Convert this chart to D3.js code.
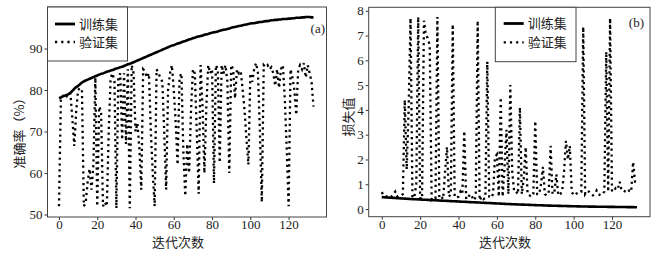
<!DOCTYPE html>
<html><head><meta charset="utf-8">
<script src="https://cdn.jsdelivr.net/npm/d3@7"></script>
<style>
html,body{margin:0;padding:0;background:#fff;}
svg{display:block;}
text{font-family:"Liberation Serif","Noto Sans CJK SC",serif;fill:#222;}
.cjk{font-family:"Noto Sans CJK SC","Liberation Serif",sans-serif;}
</style></head>
<body>
<svg id="c" width="662" height="253"></svg>
<script>
const trainAcc = [
78.0,78.2,78.5,78.6,78.8,79.0,79.3,79.8,80.3,80.7,
81.0,81.4,81.8,82.1,82.3,82.5,82.7,82.9,83.1,83.3,
83.5,83.7,83.9,84.0,84.2,84.4,84.5,84.7,84.8,85.0,
85.2,85.3,85.5,85.6,85.8,86.0,86.2,86.3,86.5,86.7,
86.9,87.1,87.3,87.5,87.7,87.9,88.1,88.3,88.5,88.7,
88.9,89.1,89.3,89.5,89.7,89.9,90.1,90.3,90.5,90.7,
90.8,91.0,91.2,91.3,91.5,91.7,91.8,92.0,92.2,92.3,
92.5,92.6,92.8,92.9,93.0,93.1,93.3,93.4,93.5,93.7,
93.8,93.9,94.0,94.1,94.3,94.4,94.5,94.6,94.7,94.8,
95.0,95.1,95.2,95.3,95.4,95.5,95.6,95.7,95.8,95.9,
96.0,96.1,96.1,96.2,96.3,96.4,96.4,96.5,96.6,96.6,
96.7,96.8,96.8,96.9,96.9,97.0,97.0,97.1,97.1,97.1,
97.2,97.2,97.3,97.3,97.4,97.4,97.4,97.5,97.5,97.6,
97.6,97.6,97.5,97.5];
const valAcc = [
52,78,78.5,79,78.5,79.5,79,73,66.5,75,
80,80.5,80,52,53,58,61,56,62,83,
52,76,75,52,53,52,70,83,84,82,
51.5,83,84,68,84,67,85,51.5,86,84,
70,72,66,56,85,84.5,83,84,70,60,
52,85,84,83,82,70,56,80,84,86,
80,72,62,83,84,65,54.5,67,60,75,
85,84,70,55,86,76,60,76,86,84,
85,57.5,86,85,62.5,86,84,86,82,60,
86,85,78,85,84,84.5,80,75,68,62,
84,82,85,86.5,84,70,53,86,85.5,86,
85,85.5,84,81,85,80.5,85,86,78,66,
52,85,83,80,74,85,86,85,86.5,83,
86,84,82,76];
const trainLoss = [
.48,.475,.47,.465,.46,.455,.45,.445,.44,.435,
.43,.425,.42,.415,.41,.405,.40,.396,.392,.388,
.384,.38,.376,.372,.368,.364,.36,.356,.352,.348,
.344,.34,.336,.332,.328,.324,.32,.316,.312,.308,
.304,.30,.296,.292,.288,.284,.28,.276,.272,.268,
.264,.26,.256,.252,.248,.244,.24,.236,.232,.228,
.224,.22,.216,.212,.208,.204,.20,.197,.194,.191,
.188,.185,.182,.179,.176,.173,.17,.167,.164,.161,
.158,.155,.152,.149,.146,.143,.14,.138,.136,.134,
.132,.13,.128,.126,.124,.122,.12,.118,.116,.114,
.112,.11,.108,.106,.104,.102,.10,.099,.098,.097,
.096,.095,.094,.093,.092,.091,.09,.089,.088,.087,
.086,.085,.084,.083,.082,.081,.08,.079,.078,.077,
.076,.075,.074,.073];
const valLoss = [
0.68,0.55,0.52,0.5,0.55,0.5,0.6,0.7,0.5,0.55,
0.55,0.6,4.4,1.6,4.0,7.7,0.45,0.5,1.0,7.75,
0.45,0.4,7.6,7.0,6.9,6.6,0.4,0.5,0.45,7.75,
0.45,0.5,0.4,1.5,2.5,0.5,0.6,7.45,0.5,0.45,
0.5,0.7,0.6,3.15,0.4,0.45,0.6,0.5,0.35,0.5,
7.6,0.35,0.5,0.4,0.45,5.95,0.5,0.45,0.6,2.1,
2.2,0.5,4.5,0.5,1.7,3.2,0.6,5.0,1.5,0.7,
0.7,0.6,4.1,0.6,1.2,2.5,0.6,0.55,0.5,0.6,
3.55,0.6,0.6,1.0,1.7,0.6,0.55,0.65,2.55,0.6,
0.7,1.4,0.55,0.6,0.7,1.5,2.75,2.0,2.55,0.7,
0.55,0.6,0.65,0.7,0.7,7.35,0.6,0.7,0.7,0.6,
0.55,0.6,0.75,0.6,0.55,0.6,0.7,6.35,0.7,7.7,
0.7,0.75,0.85,0.8,1.1,0.75,0.75,0.7,0.65,0.75,
0.7,1.9,1.1,1.05];
const epochs = trainAcc.map((d,i)=>i);
const xTicks = [0,20,40,60,80,100,120];
const accTicks = [50,60,70,80,90];
const lossTicks = [0,1,2,3,4,5,6,7,8];
const seriesNames = ["训练集","验证集"];
const accLabel = "准确率（%）";
const lossLabel = "损失值";
const xLabel = "迭代次数";

const svg = d3.select("#c");
const DASH = "2.2,3.6";

function panel(o){
  const x = d3.scaleLinear().domain(o.xd).range([o.x0,o.x1]);
  const y = d3.scaleLinear().domain(o.yd).range([o.y1,o.y0]);
  const g = svg.append("g");
  const clipId = "clip"+o.id;
  svg.append("clipPath").attr("id",clipId).append("rect")
    .attr("x",o.x0).attr("y",o.y0).attr("width",o.x1-o.x0).attr("height",o.y1-o.y0);
  const line = (arr)=>d3.line().x((d,i)=>x(epochs[i])).y(d=>y(d))(arr);
  const dg = g.append("g").attr("clip-path",`url(#${clipId})`);
  dg.append("path").attr("d",line(o.val)).attr("fill","none").attr("stroke","#000")
    .attr("stroke-width",2.3).attr("stroke-dasharray",DASH);
  dg.append("path").attr("d",line(o.train)).attr("fill","none").attr("stroke","#000")
    .attr("stroke-width",2.6).attr("stroke-linejoin","round");
  const xa = g.append("g").attr("transform",`translate(0,${o.y1})`)
    .call(d3.axisBottom(x).tickValues(xTicks).tickSize(3).tickPadding(0));
  const ya = g.append("g").attr("transform",`translate(${o.x0},0)`)
    .call(d3.axisLeft(y).tickValues(o.yt).tickSize(3).tickPadding(2));
  [xa,ya].forEach(a=>{
    a.select(".domain").remove();
    a.selectAll("line").attr("stroke","#333");
    a.selectAll("text").attr("font-size",13).attr("fill","#222")
      .style("font-family","'Liberation Serif',serif");
  });
  g.append("rect").attr("x",o.x0).attr("y",o.y0).attr("width",o.x1-o.x0).attr("height",o.y1-o.y0)
    .attr("fill","none").attr("stroke","#444").attr("stroke-width",1);
  const L = o.leg;
  g.append("rect").attr("x",L.x).attr("y",o.y0).attr("width",L.w).attr("height",L.h)
    .attr("fill","#fff").attr("stroke","#444").attr("stroke-width",1);
  seriesNames.forEach((n,i)=>{
    const yy = L.ry[i];
    g.append("line").attr("x1",L.lx).attr("x2",L.lx+20).attr("y1",yy).attr("y2",yy)
      .attr("stroke","#000").attr("stroke-width",i===0?2.8:2.3)
      .attr("stroke-dasharray",i===0?null:"2.2,4");
    g.append("text").attr("class","cjk").attr("x",L.lx+24).attr("y",yy).attr("dy","0.36em")
      .attr("font-size",13).attr("fill","#222").text(n);
  });
  g.append("text").attr("x",o.tag.x).attr("y",o.tag.y).attr("text-anchor","end")
    .attr("font-size",13).attr("fill","#222").text(o.tag.t);
  g.append("text").attr("class","cjk").attr("x",o.xl.x).attr("y",o.xl.y).attr("text-anchor","middle")
    .attr("font-size",13).attr("fill","#333").text(xLabel);
  g.append("text").attr("class","cjk").attr("transform",`translate(${o.yl.x},${o.yl.y}) rotate(-90)`)
    .attr("text-anchor","middle").attr("dy","0.36em").attr("font-size",13).attr("fill","#444").text(o.yl.t);
}

panel({id:"a",xd:[-6,139.8],yd:[49.4,100],x0:47.5,x1:326.5,y0:7,y1:217,
  train:trainAcc,val:valAcc,yt:accTicks,
  leg:{x:47.5,w:80,h:54,lx:55,ry:[24,42]},
  tag:{x:325,y:33,t:"(a)"},xl:{x:178,y:247},yl:{x:19,y:130,t:accLabel}});
panel({id:"b",xd:[-6.8,139.8],yd:[-0.31,8.14],x0:368.7,x1:650,y0:7.3,y1:216.7,
  train:trainLoss,val:valLoss,yt:lossTicks,
  leg:{x:495.3,w:80.7,h:54.4,lx:503.7,ry:[23.5,42.3]},
  tag:{x:644,y:27,t:"(b)"},xl:{x:505,y:247},yl:{x:348,y:117,t:lossLabel}});
</script>
</body></html>
